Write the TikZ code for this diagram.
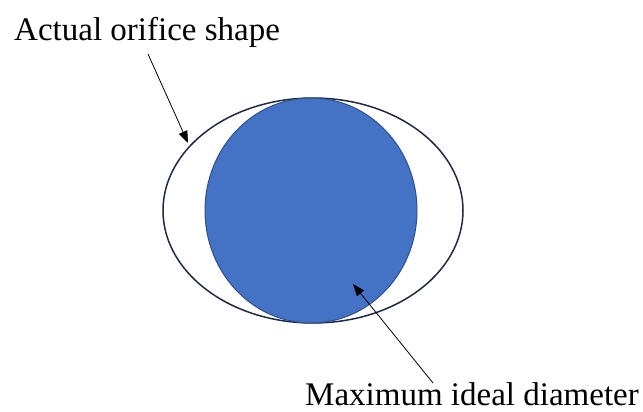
\documentclass[tikz,border=0pt]{standalone}
\usepackage{fontspec}
\setmainfont{Liberation Serif}
\usetikzlibrary{shapes.geometric,arrows.meta}
\definecolor{fillblue}{HTML}{4472C4}
\definecolor{edgeblue}{HTML}{2F4F8F}
\definecolor{outline}{HTML}{1F2A44}
\begin{document}
\begin{tikzpicture}[x=1pt,y=-1pt,
  lbl/.style={font=\fontsize{33}{38}\selectfont, inner sep=0pt, anchor=base west},
  arr/.style={draw=black, line width=0.8pt, -{Triangle[length=12pt,width=9pt]}},
  shapeoutline/.style={ellipse, draw=outline, line width=1.5pt, inner sep=0pt, outer sep=0pt},
]
\useasboundingbox (0,0) rectangle (643,412);
\fill[white] (0,0) rectangle (643,412);
\node[shapeoutline, minimum width=300pt, minimum height=225pt] (orifice) at (313,210.5) {};
\node[ellipse, fill=fillblue, draw=edgeblue, line width=1pt, inner sep=0pt, outer sep=0pt, minimum width=212pt, minimum height=225pt] (ideal) at (311,210.5) {};
\node[lbl] (t1) at (14,40.5) {Actual orifice shape};
\node[lbl, text depth=0pt] (t2) at (305,405) {Maximum ideal diameter};
\coordinate (s1) at (148,54);
\coordinate (e1) at (188,143);
\coordinate (s2) at (433,383);
\coordinate (e2) at (353,284);
\draw[arr] (s1) -- (e1);
\draw[arr] (s2) -- (e2);
\end{tikzpicture}
\end{document}
